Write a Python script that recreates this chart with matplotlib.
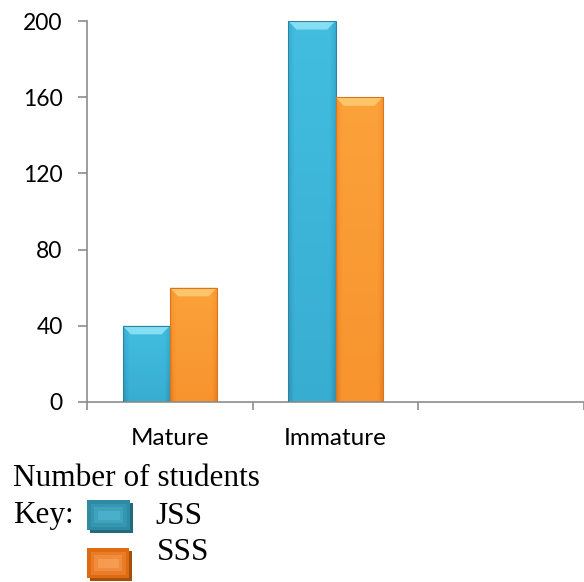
import numpy as np
import matplotlib
matplotlib.use("Agg")
import matplotlib.pyplot as plt
from matplotlib.patches import Polygon, Rectangle
from matplotlib.colors import LinearSegmentedColormap

categories = ["Mature", "Immature"]
jss = [40, 200]
sss = [60, 160]
yticks = [0, 40, 80, 120, 160, 200]
series_names = ["JSS", "SSS"]

W, H = 584, 582
fig = plt.figure(figsize=(W / 100, H / 100), dpi=100)
ax = fig.add_axes([87 / W, (H - 402) / H, 497 / W, 381 / H])

bar_w = 0.285
x = np.arange(len(categories))

styles = {
    "JSS": dict(light="#45c2e4", mid="#36abd0", dark="#2b84a2", bevel="#86def2"),
    "SSS": dict(light="#fda63e", mid="#f7922c", dark="#d9741f", bevel="#fdc56a"),
}
key_styles = {
    "JSS": ["#2f8aa3", "#3596b0", "#3fa3bd", "#4aafc8"],
    "SSS": ["#e06a12", "#ea7c28", "#f08c3e", "#f59c52"],
}
key_shadow = {"JSS": "#246a7d", "SSS": "#a5500f"}

def shade_bars(bars, st):
    cmap = LinearSegmentedColormap.from_list("g", [st["dark"], st["mid"], st["light"]])
    for b in bars:
        x0, y0 = b.get_x(), b.get_y()
        w, h = b.get_width(), b.get_height()
        # vertical gradient with darker side edges
        yy = np.linspace(0, 1, 64)[:, None]
        xx = np.linspace(-1, 1, 32)[None, :]
        val = 0.55 + 0.35 * yy - 0.35 * np.clip(np.abs(xx) - 0.75, 0, None) / 0.25
        im = ax.imshow(val, cmap=cmap, vmin=0, vmax=1, origin="lower",
                       extent=[x0, x0 + w, y0, y0 + h], aspect="auto", zorder=2,
                       interpolation="bilinear")
        im.set_clip_path(b)
        dx = 0.05
        dy = 4.5
        top = y0 + h
        ax.add_patch(Polygon([[x0, top], [x0 + w, top], [x0 + w - dx, top - dy],
                              [x0 + dx, top - dy]], closed=True,
                             facecolor=st["bevel"], edgecolor="none", zorder=3))
        ax.add_patch(Rectangle((x0, y0), w, h, facecolor="none",
                               edgecolor=st["dark"], linewidth=0.8, zorder=3))

b1 = ax.bar(x - bar_w / 2, jss, bar_w, color=styles["JSS"]["mid"], zorder=1)
b2 = ax.bar(x + bar_w / 2, sss, bar_w, color=styles["SSS"]["mid"], zorder=1)
shade_bars(b1, styles["JSS"])
shade_bars(b2, styles["SSS"])

ax.set_xlim(-0.5, 2.5)
ax.set_ylim(0, 200)
ax.set_yticks(yticks)
ax.set_yticklabels([str(v) for v in yticks])
ax.set_xticks([-0.5, 0.5, 1.5, 2.5])
ax.set_xticklabels([])
ax.set_xticks(x, minor=True)
ax.set_xticklabels(categories, minor=True)

axis_col = "#8c8c8c"
for s in ["top", "right"]:
    ax.spines[s].set_visible(False)
for s in ["left", "bottom"]:
    ax.spines[s].set_color(axis_col)
    ax.spines[s].set_linewidth(1.2)
ax.tick_params(axis="y", length=6.5, width=1.2, color=axis_col, pad=11,
               labelsize=16.5, labelcolor="black")
ax.tick_params(axis="x", which="major", length=6, width=1.2, color=axis_col)
ax.tick_params(axis="x", which="minor", length=0, pad=18.5, labelsize=17.5)
for lab in ax.get_yticklabels() + ax.get_xticklabels(minor=True):
    lab.set_fontfamily("Lato")

# key below the chart
def fx(px):
    return px / W

def fy(py):
    return 1 - py / H

serif = "Liberation Serif"
fs = 22.5
fig.text(fx(13), fy(478), "Number of students", fontsize=fs, family=serif,
         va="center", ha="left")
fig.text(fx(13), fy(516), "Key:", fontsize=fs, family=serif, va="center", ha="left")

def swatch(x0, y0, w, h, name):
    fig.patches.append(Rectangle((fx(x0 + 3), fy(y0 + h + 3)), fx(w), h / H,
                                 transform=fig.transFigure, facecolor=key_shadow[name],
                                 edgecolor="none"))
    for i, c in enumerate(key_styles[name]):
        inset = i * 3.5
        fig.patches.append(Rectangle((fx(x0 + inset), fy(y0 + h - inset)),
                                     fx(w - 2 * inset), (h - 2 * inset) / H,
                                     transform=fig.transFigure, facecolor=c,
                                     edgecolor="none"))

swatch(87, 500, 43, 30, "JSS")
swatch(87, 548, 42, 30, "SSS")
fig.text(fx(155), fy(516), series_names[0], fontsize=fs, family=serif,
         va="center", ha="left")
fig.text(fx(157), fy(553), series_names[1], fontsize=fs, family=serif,
         va="center", ha="left")

fig.savefig("out.png", dpi=100)
